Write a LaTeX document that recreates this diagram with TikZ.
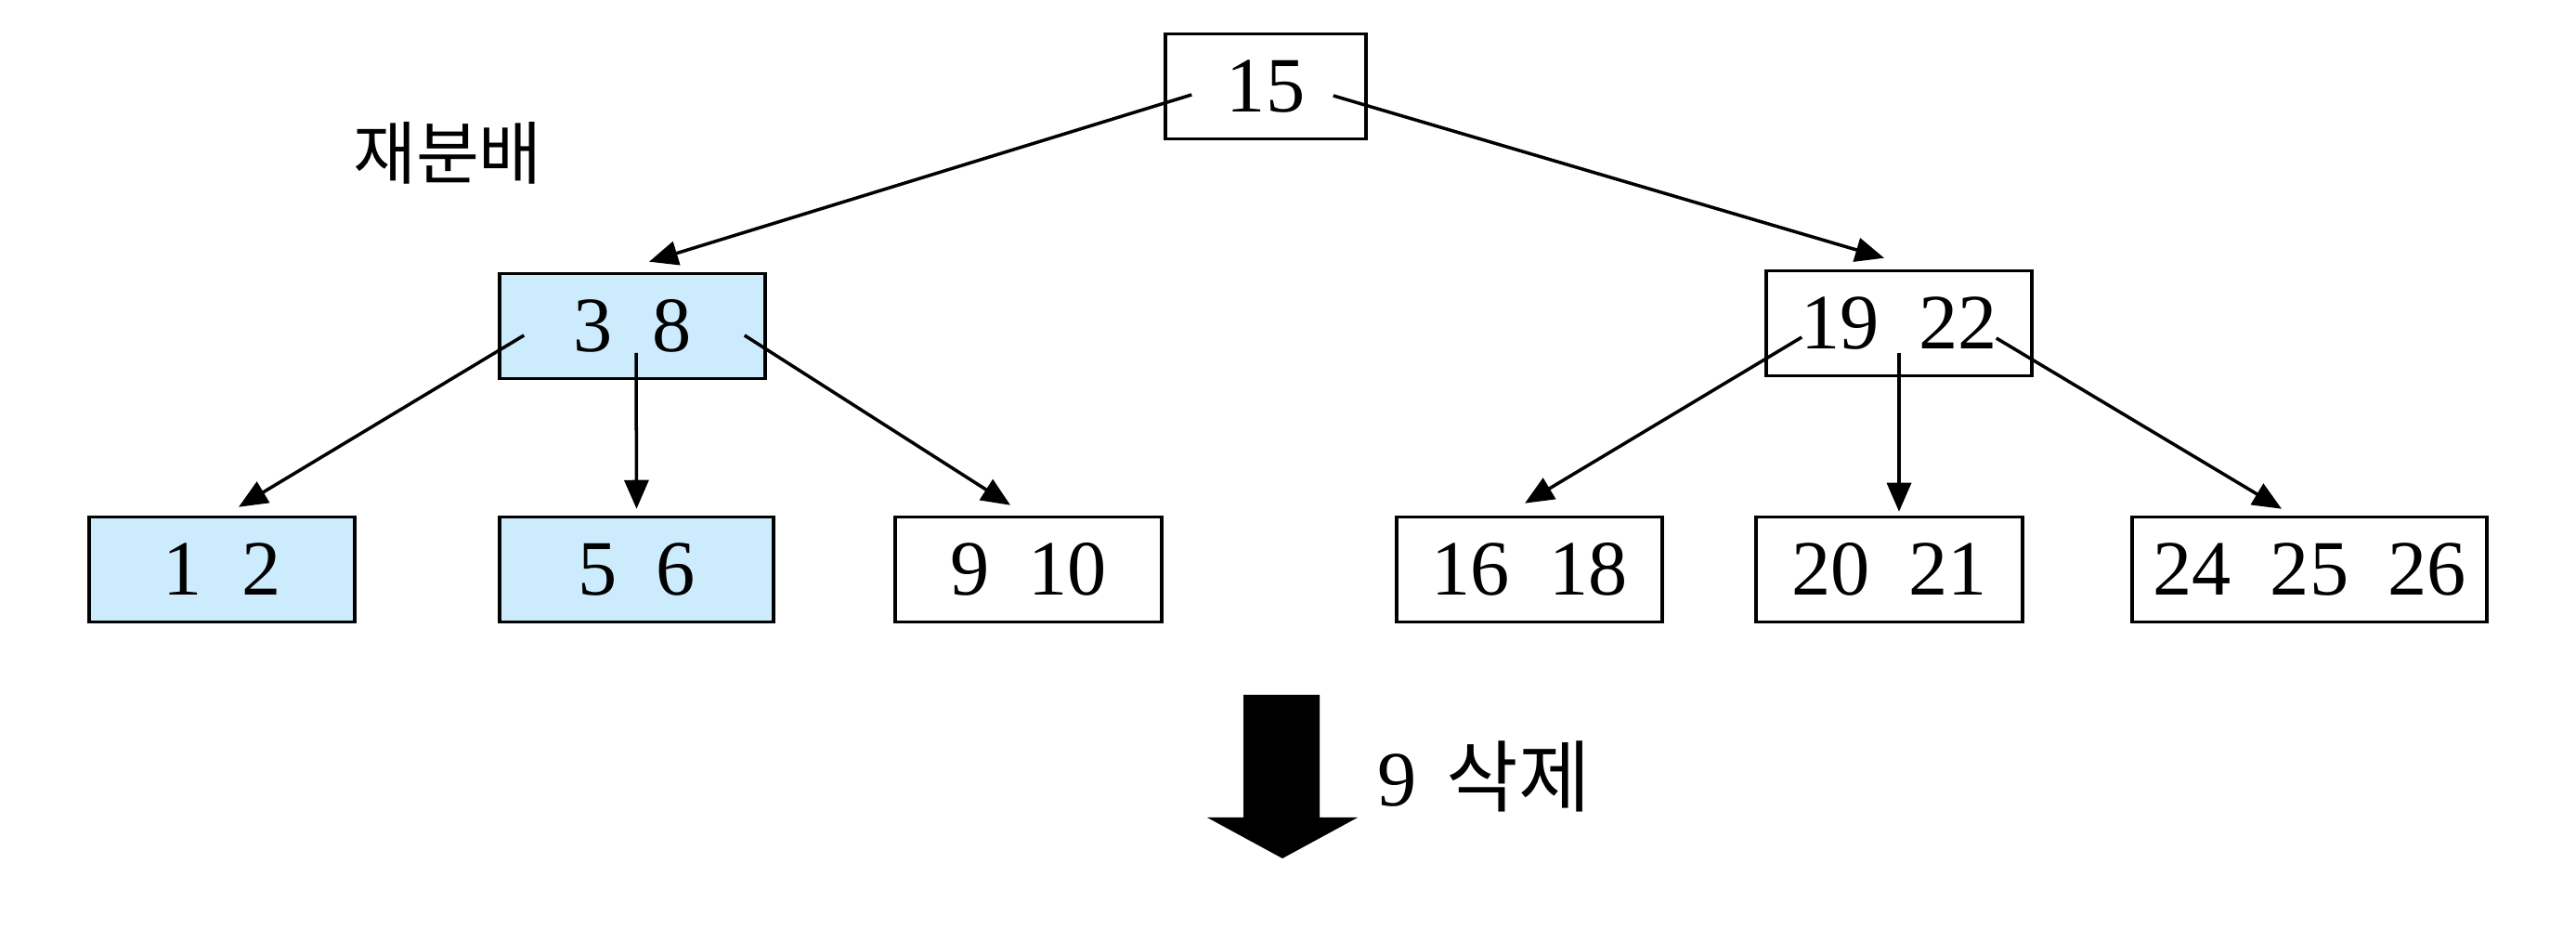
\documentclass[tikz,border=0pt]{standalone}
\usepackage{fontspec}
\setmainfont{Liberation Serif}
\newfontfamily\krfont{Noto Sans CJK KR}
\usetikzlibrary{calc,arrows.meta}
\usepackage{xcolor}
\definecolor{nodeblue}{HTML}{CCEBFC}

\begin{document}
\begin{tikzpicture}[
  keybox/.style={draw, line width=1pt, minimum height=1.13cm, inner sep=0pt,
    font=\fontsize{24}{28}\selectfont},
  link/.style={line width=1pt, -{Triangle[length=3.1mm,width=2.6mm]}}
]
  \useasboundingbox (0,0) rectangle (27.74,-10);

  % Root
  \node[keybox, minimum width=2.16cm] (root) at (13.63,-0.93) {15};

  % Second level
  \node[keybox, fill=nodeblue, minimum width=2.86cm] (n38) at (6.81,-3.51) {3~~8};
  \node[keybox, minimum width=2.86cm] (n1922) at (20.45,-3.48) {19~~22};

  % Leaves
  \node[keybox, fill=nodeblue, minimum width=2.86cm] (l12) at (2.39,-6.13) {1~~2};
  \node[keybox, fill=nodeblue, minimum width=2.95cm] (l56) at (6.855,-6.13) {5~~6};
  \node[keybox, minimum width=2.87cm] (l910) at (11.075,-6.13) {9~~10};
  \node[keybox, minimum width=2.86cm] (l1618) at (16.47,-6.13) {16~~18};
  \node[keybox, minimum width=2.87cm] (l2021) at (20.345,-6.13) {20~~21};
  \node[keybox, minimum width=3.82cm] (l242526) at (24.87,-6.13) {24~~25~~26};

  % Label
  \node[font=\krfont\fontsize{21}{24}\selectfont] (redist) at (4.82,-1.65) {재분배};

  % Links from root
  \draw[link] ([shift={(0.30,-0.09)}]root.west) -- ([shift={(0.18,0.11)}]n38.north);
  \draw[link] ([shift={(-0.37,-0.10)}]root.east) -- ([shift={(-0.16,0.12)}]n1922.north);

  % Links from 3 8
  \draw[link] ([shift={(0.28,-0.10)}]n38.west) -- ([shift={(0.18,0.09)}]l12.north);
  \draw[link] ([shift={(0.04,-0.29)}]n38.center) -- ([shift={(0,0.07)}]l56.north);
  \draw[link] ([shift={(-0.24,-0.10)}]n38.east) -- ([shift={(-0.195,0.11)}]l910.north);

  % Links from 19 22
  \draw[link] ([shift={(0.40,-0.15)}]n1922.west) -- ([shift={(-0.05,0.13)}]l1618.north);
  \draw[link] ([shift={(0,-0.32)}]n1922.center) -- ([shift={(0.105,0.04)}]l2021.north);
  \draw[link] ([shift={(-0.40,-0.16)}]n1922.east) -- ([shift={(-0.30,0.07)}]l242526.north);

  % Big arrow
  \fill (13.39,-7.48) -- (14.21,-7.48) -- (14.21,-8.80) -- (14.62,-8.80)
    -- (13.81,-9.24) -- (13.00,-8.80) -- (13.39,-8.80) -- cycle;
  \node[anchor=base west, inner sep=0pt, font=\fontsize{24}{28}\selectfont] (delnine)
    at (14.83,-8.68) {9\hspace{0.32cm}{\krfont 삭제}};

\end{tikzpicture}
\end{document}
